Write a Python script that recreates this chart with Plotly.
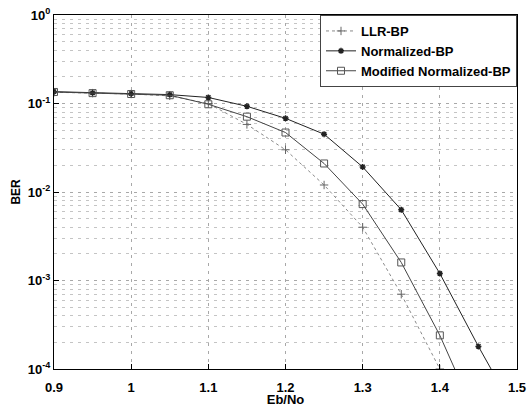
import plotly.graph_objects as go

# Eb/No values (x axis)
ebno = [0.9, 0.95, 1.0, 1.05, 1.1, 1.15, 1.2, 1.25, 1.3, 1.35, 1.4, 1.45, 1.5]

# BER series
ber_llr = [0.134, 0.131, 0.128, 0.122, 0.100, 0.058, 0.030, 0.0120, 0.0040, 0.00070, 0.000100, 0.0000110, None]
ber_norm = [0.136, 0.132, 0.129, 0.126, 0.117, 0.093, 0.068, 0.045, 0.0192, 0.0063, 0.00120, 0.000180, 0.000030]
ber_mod = [0.135, 0.131, 0.128, 0.124, 0.098, 0.071, 0.047, 0.021, 0.0073, 0.0016, 0.00024, 0.0000250, None]

series_names = ["LLR-BP", "Normalized-BP", "Modified Normalized-BP"]

x_ticks = [0.9, 1.0, 1.1, 1.2, 1.3, 1.4, 1.5]
x_ticktext = ["0.9", "1", "1.1", "1.2", "1.3", "1.4", "1.5"]
y_ticks = [1e-4, 1e-3, 1e-2, 1e-1, 1]
y_ticktext = ["10<sup>-4</sup>", "10<sup>-3</sup>", "10<sup>-2</sup>", "10<sup>-1</sup>", "10<sup>0</sup>"]

fig = go.Figure()

fig.add_trace(go.Scatter(
    x=ebno, y=ber_llr, name=series_names[0], mode="lines+markers",
    line=dict(color="#8a8a8a", width=1, dash="dot"),
    marker=dict(symbol="cross-thin", size=6, line=dict(color="#666666", width=1)),
))
fig.add_trace(go.Scatter(
    x=ebno, y=ber_norm, name=series_names[1], mode="lines+markers",
    line=dict(color="#222222", width=1),
    marker=dict(symbol="asterisk-open", size=5, line=dict(color="#000000", width=1.5)),
))
fig.add_trace(go.Scatter(
    x=ebno, y=ber_mod, name=series_names[2], mode="lines+markers",
    line=dict(color="#444444", width=1),
    marker=dict(symbol="square-open", size=7, color="#555555", line=dict(color="#555555", width=1)),
))

font_family = "Liberation Sans, Arial, sans-serif"

fig.update_layout(
    width=530, height=407,
    margin=dict(l=54, r=13, t=15, b=38),
    paper_bgcolor="white", plot_bgcolor="white",
    font=dict(family=font_family, size=12, color="black"),
    showlegend=True,
    legend=dict(
        x=1, y=1, xanchor="right", yanchor="top",
        bgcolor="white", bordercolor="#444444", borderwidth=1,
        font=dict(size=13, family=font_family, color="black", weight="bold"),
        tracegroupgap=0, itemwidth=30,
    ),
    xaxis=dict(
        range=[0.9, 1.5], tickvals=x_ticks, ticktext=x_ticktext,
        automargin=False, ticklabeloverflow="allow",
        showgrid=True, gridcolor="#a8a8a8", griddash="3px,5px", gridwidth=1,
        showline=True, linecolor="black", linewidth=1, mirror=True,
        ticks="inside", ticklen=5, tickcolor="black",
        ticklabelstandoff=6,
        tickfont=dict(size=13, weight="bold"),
        title=dict(text="Eb/No", font=dict(size=13, weight="bold"), standoff=6),
        zeroline=False,
    ),
    yaxis=dict(
        type="log", range=[-4, 0], tickvals=y_ticks, ticktext=y_ticktext,
        automargin=False, ticklabeloverflow="allow",
        showgrid=True, gridcolor="#a8a8a8", griddash="3px,5px", gridwidth=1,
        minor=dict(dtick="D1", showgrid=True, gridcolor="#c4c4c4", griddash="3px,5px", ticks=""),
        showline=True, linecolor="black", linewidth=1, mirror=True,
        ticks="inside", ticklen=5, tickcolor="black",
        tickfont=dict(size=13, weight="bold"),
        zeroline=False,
    ),
    annotations=[dict(
        text="BER", xref="paper", yref="paper", x=-0.083, y=0.5,
        xanchor="center", yanchor="middle", textangle=-90, showarrow=False,
        font=dict(size=12, weight="bold", color="black"),
    )],
)

# remove the browser's default 8px body margin so the figure sits at the page origin
fig.write_html("out.html", config={"displayModeBar": False},
               post_script="document.body.style.margin='0';")
